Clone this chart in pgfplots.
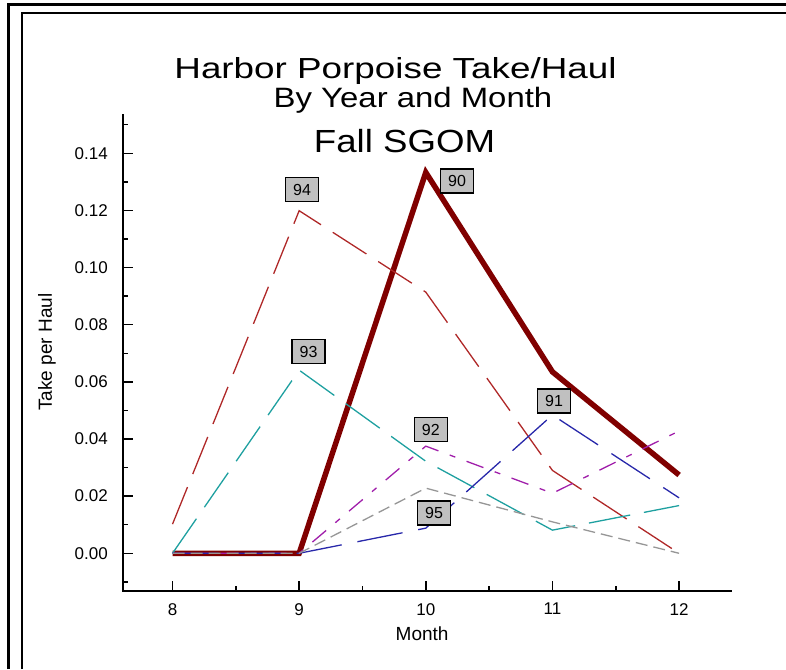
\documentclass[border=0pt]{standalone}
\usepackage{pgfplots}
\pgfplotsset{compat=1.18}
\usepackage{fontspec}
\setmainfont{Liberation Sans}
\definecolor{c90}{RGB}{128,0,0}
\definecolor{c94}{RGB}{175,40,40}
\definecolor{c93}{RGB}{30,160,160}
\definecolor{c92}{RGB}{160,30,170}
\definecolor{c91}{RGB}{40,40,170}
\definecolor{c95}{RGB}{150,150,150}
\definecolor{lblgray}{RGB}{192,192,192}
\tikzset{lbl/.style={draw=black, line width=1.3pt, fill=lblgray, inner sep=0pt, minimum width=33pt, minimum height=24pt, font=\fontsize{16}{16}\selectfont}}
\begin{document}
\begin{tikzpicture}[x=1pt,y=1pt]
\path[use as bounding box] (0,0) rectangle (786,669);
% frame
\draw[line width=3pt] (8,0) -- (8,664) -- (786,664);
\draw[line width=1.3pt] (22,0) -- (22,656) -- (786,656);
% titles
\node[anchor=base, inner sep=0pt] at (395.5,590) {\scalebox{1.27}[1]{\fontsize{29}{29}\selectfont Harbor Porpoise Take/Haul}};
\node[anchor=base, inner sep=0pt] at (413,561) {\scalebox{1.175}[1]{\fontsize{28}{28}\selectfont By Year and Month}};
\node[anchor=base, inner sep=0pt] at (404.5,516) {\scalebox{1.145}[1]{\fontsize{32}{32}\selectfont Fall SGOM}};
\begin{axis}[
  at={(123pt,78pt)}, anchor=south west,
  width=608pt, height=476pt, scale only axis,
  xmin=7.609, xmax=12.41, ymin=-0.0132, ymax=0.1534,
  axis lines=left,
  axis line style={-, line width=2.6pt, line cap=rect},
  tick align=inside,
  major tick length=10pt, minor tick length=5pt,
  tick style={black, line width=1.5pt},
  xtick={8,9,10,11,12},
  minor xtick={8.5,9.5,10.5,11.5},
  ytick={0,0.02,0.04,0.06,0.08,0.10,0.12,0.14},
  minor ytick={-0.01,0.01,0.03,0.05,0.07,0.09,0.11,0.13,0.15},
  scaled y ticks=false,
  /pgf/number format/assume math mode=true,
  yticklabel style={/pgf/number format/.cd, fixed, fixed zerofill, precision=2, /tikz/.cd, anchor=east, inner sep=0pt, xshift=-15pt, font=\fontsize{17}{17}\selectfont},
  xticklabel style={anchor=north, inner sep=0pt, yshift=-12pt, font=\fontsize{17}{17}\selectfont},
  xlabel={Month},
  xlabel style={at={(axis description cs:0.492,0)}, anchor=base, yshift=-49pt, inner sep=0pt, font=\fontsize{19}{19}\selectfont},
  ylabel={Take per Haul},
  ylabel style={at={(axis description cs:0,0.502)}, anchor=center, yshift=76pt, inner sep=0pt, font=\fontsize{19}{19}\selectfont},
  clip=false,
]
% 90
\addplot[c90, line width=5.5pt] coordinates {(8,0) (9,0) (10,0.1333) (11,0.0635) (12,0.0274)};
% 94
\addplot[c94, line width=1.3pt, dash pattern=on 40pt off 14pt] coordinates {(8,0.0102) (9,0.1199) (10,0.0914) (11,0.029) (12,0.0)};
% 93
\addplot[c93, line width=1.3pt, dash pattern=on 42pt off 14pt] coordinates {(8,0) (9,0.0641) (10,0.0322) (11,0.0081) (12,0.0167)};
% 92
\addplot[c92, line width=1.3pt, dash pattern=on 18pt off 12pt on 6pt off 12pt] coordinates {(8,0) (9,0) (10,0.0375) (11,0.021) (12,0.0428)};
% 91
\addplot[c91, line width=1.3pt, dash pattern=on 46pt off 16pt] coordinates {(8,0) (9,0) (10,0.0088) (11,0.0484) (12,0.0194)};
% 95
\addplot[c95, line width=1.3pt, dash pattern=on 12pt off 6pt] coordinates {(8,0) (9,0) (10,0.0228) (11,0.011) (12,0.0)};
% year labels
\node[lbl] at (axis cs:9.023,0.1273) {94};
\node[lbl] at (axis cs:9.074,0.0706) {93};
\node[lbl] at (axis cs:10.04,0.0433) {92};
\node[lbl] at (axis cs:10.065,0.0141) {95};
\node[lbl] at (axis cs:11.013,0.0533) {91};
\node[lbl] at (axis cs:10.247,0.1303) {90};
\end{axis}
\end{tikzpicture}
\end{document}
